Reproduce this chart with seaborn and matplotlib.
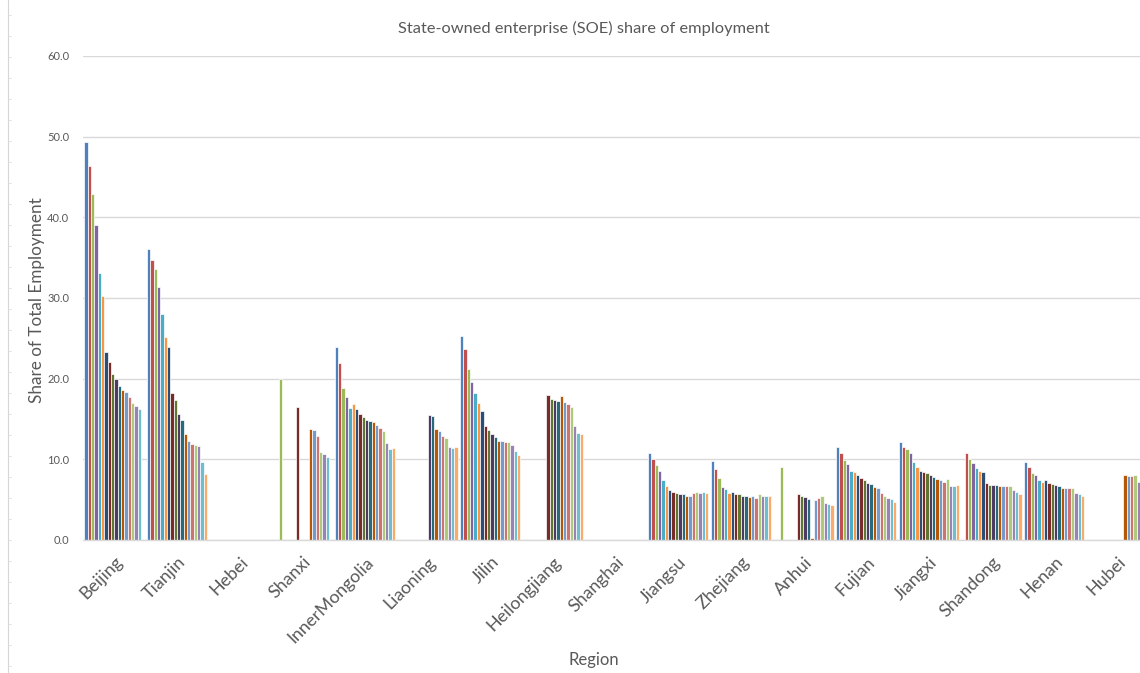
import numpy as np
import pandas as pd
import matplotlib
matplotlib.use("Agg")
import matplotlib.pyplot as plt
import matplotlib.transforms as mtransforms
import seaborn as sns
from matplotlib.lines import Line2D

# ---- data -------------------------------------------------------------
regions = ["Beijing", "Tianjin", "Hebei", "Shanxi", "InnerMongolia", "Liaoning",
           "Jilin", "Heilongjiang", "Shanghai", "Jiangsu", "Zhejiang", "Anhui",
           "Fujian", "Jiangxi", "Shandong", "Henan", "Hubei"]
years = [str(y) for y in range(1995, 2013)]  # 18 annual series
nan = np.nan

beijing = [49.4, 46.4, 42.9, 39.1, 33.1, 30.2, 23.3, 22.1, 20.6, 20.0, 19.1, 18.6, 18.3, 17.7, 17.0, 16.6, 16.2, nan]
tianjin = [36.1, 34.7, 33.6, 31.4, 28.0, 25.2, 23.9, 18.2, 17.3, 15.6, 14.9, 13.2, 12.3, 11.9, 11.8, 11.7, 9.7, 8.2]
hebei = [nan] * 18
shanxi = [nan, nan, 19.9, nan, nan, nan, nan, 16.5, nan, nan, nan, 13.7, 13.6, 12.9, 10.9, 10.6, 10.3, nan]
inner_mongolia = [23.9, 22.0, 18.8, 17.7, 16.4, 16.8, 16.3, 15.6, 15.2, 14.9, 14.8, 14.6, 14.3, 13.9, 13.5, 12.0, 11.3, 11.4]
liaoning = [nan] * 9 + [15.5, 15.4, 13.8, 13.5, 12.9, 12.7, 11.5, 11.4, 11.5]
jilin = [25.3, 23.7, 21.2, 19.6, 18.2, 17.0, 16.0, 14.1, 13.6, 13.1, 12.8, 12.3, 12.3, 12.2, 12.1, 11.8, 11.0, 10.5]
heilongjiang = [nan] * 7 + [18.0, 17.5, 17.4, 17.2, 17.8, 17.1, 16.9, 16.5, 14.1, 13.3, 13.1]
shanghai = [nan] * 18
jiangsu = [10.8, 10.1, 9.3, 8.6, 7.4, 6.7, 6.2, 6.0, 5.8, 5.7, 5.7, 5.5, 5.5, 5.8, 5.9, 5.8, 6.0, 5.8]
zhejiang = [9.8, 8.8, 7.7, 6.6, 6.3, 5.8, 6.0, 5.7, 5.7, 5.4, 5.4, 5.3, 5.4, 5.2, 5.7, 5.4, 5.4, 5.5]
anhui = [nan, nan, 9.1, nan, nan, nan, nan, 5.7, 5.4, 5.3, 5.1, 0.3, 5.0, 5.2, 5.4, 4.6, 4.5, 4.3]
fujian = [11.5, 10.8, 9.9, 9.4, 8.6, 8.4, 8.0, 7.7, 7.4, 7.1, 6.9, 6.6, 6.5, 5.8, 5.5, 5.2, 5.1, 4.7]
jiangxi = [12.2, 11.5, 11.3, 10.8, 9.7, 9.1, 8.6, 8.4, 8.3, 8.0, 7.8, 7.6, 7.4, 7.2, 7.6, 6.7, 6.7, 6.8]
shandong = [nan, 10.8, 10.0, 9.6, 8.9, 8.6, 8.4, 7.1, 6.8, 6.8, 6.8, 6.7, 6.7, 6.7, 6.7, 6.2, 6.0, 5.7]
henan = [9.7, 9.1, 8.3, 8.1, 7.5, 7.2, 7.4, 7.1, 6.9, 6.8, 6.7, 6.5, 6.4, 6.4, 6.4, 5.8, 5.7, 5.5]
hubei = [nan] * 11 + [8.0, 7.9, 7.9, 8.0, 7.2, 7.2, 7.0]

y_ticks = [0, 10, 20, 30, 40, 50, 60]
y_tick_labels = ["0.0", "10.0", "20.0", "30.0", "40.0", "50.0", "60.0"]

series_by_region = [beijing, tianjin, hebei, shanxi, inner_mongolia, liaoning, jilin,
                    heilongjiang, shanghai, jiangsu, zhejiang, anhui, fujian, jiangxi,
                    shandong, henan, hubei]

rows = []
for region, values in zip(regions, series_by_region):
    for year, v in zip(years, values):
        rows.append({"region": region, "year": year, "share": v})
df = pd.DataFrame(rows).dropna()

# Office-style 18 colour series
colors = ["#4F81BD", "#C0504D", "#9BBB59", "#8064A2", "#4BACC6", "#F79646",
          "#2C4D75", "#772C2A", "#5F7530", "#4D3B62", "#276A7C", "#B65708",
          "#729ACA", "#CD7371", "#AFC97A", "#9983B5", "#6FBDD1", "#F9AB6B"]

# ---- figure -----------------------------------------------------------
sns.set_theme(style="white")
plt.rcParams["font.family"] = ["Lato", "DejaVu Sans"]
text_color = "#595959"

W, H = 1140, 673
fig = plt.figure(figsize=(W / 100, H / 100), dpi=100)
ax_left, ax_bottom, ax_top = 83, 540, 56
ax = fig.add_axes([ax_left / W, (H - ax_bottom) / H, (W - ax_left) / W, (ax_bottom - ax_top) / H])

sns.barplot(data=df, x="region", y="share", hue="year", order=regions, hue_order=years,
            palette=colors, width=0.9625, dodge=True, saturation=1, errorbar=None,
            legend=False, linewidth=0.5, edgecolor="white", ax=ax)

ax.set_ylim(0, 60)
ax.set_xlim(-0.5, -0.5 + (W - ax_left) / 62.65)
ax.set_yticks(y_ticks)
ax.set_yticklabels(y_tick_labels, fontsize=8, color=text_color)
ax.yaxis.grid(True, color="#D9D9D9", linewidth=1)
ax.set_axisbelow(True)
for side in ["left", "right", "top"]:
    ax.spines[side].set_visible(False)
ax.spines["bottom"].set_color("#D9D9D9")
ax.spines["bottom"].set_linewidth(1)
ax.tick_params(axis="y", length=0, pad=10)
ax.tick_params(axis="x", length=0, pad=14)
ax.set_xlabel("")
ax.set_ylabel("")

ax.set_xticks(range(len(regions)))
ax.set_xticklabels(regions, rotation=45, ha="right", va="center",
                   rotation_mode="anchor", fontsize=12.8, color=text_color)
shift = mtransforms.ScaledTranslation(6 / 100, 0, fig.dpi_scale_trans)
for lbl in ax.get_xticklabels():
    lbl.set_transform(lbl.get_transform() + shift)

fig.text(584 / W, 1 - 28 / H, "State-owned enterprise (SOE) share of employment",
         ha="center", va="center", fontsize=11.8, color=text_color)
fig.text(37 / W, 1 - 300 / H, "Share of Total Employment", rotation=90,
         ha="center", va="center", fontsize=12.3, color=text_color)
fig.text(594 / W, 1 - 660 / H, "Region", ha="center", va="center",
         fontsize=12, color=text_color)

# faint page ruler along the left edge
fig.add_artist(Line2D([8 / W, 8 / W], [0, 1], color="#D6D6D6", linewidth=0.8))
for yy in range(15, H, 21):
    fig.add_artist(Line2D([8 / W, 11 / W], [1 - yy / H, 1 - yy / H],
                          color="#DDDDDD", linewidth=0.6))

fig.savefig("out.png", dpi=100)
